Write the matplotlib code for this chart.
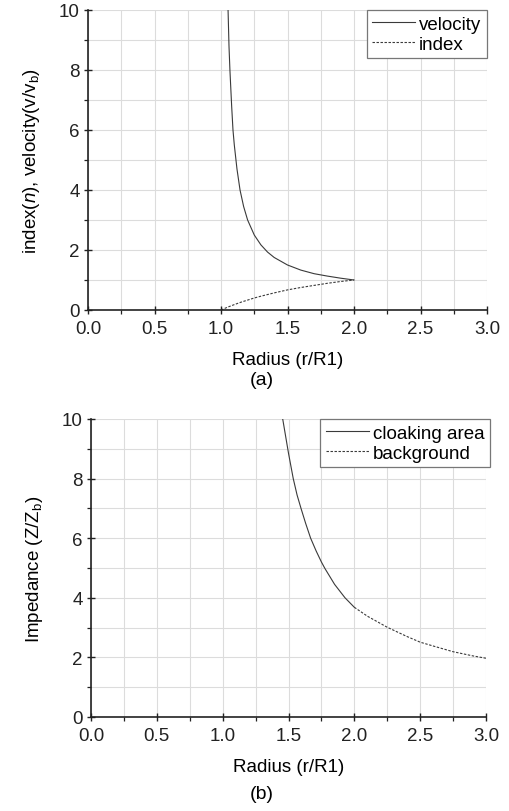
"""
cloak profiles: (a) index / velocity, (b) impedance vs radius
"""

import matplotlib
matplotlib.use("Agg")
import matplotlib.pyplot as plt
from matplotlib.ticker import MultipleLocator

plt.rcParams['font.family'] = ['Liberation Sans', 'DejaVu Sans']
plt.rcParams['mathtext.fontset'] = 'custom'
plt.rcParams['mathtext.rm'] = 'Liberation Sans'
plt.rcParams['mathtext.it'] = 'Liberation Sans:italic'

# panel (a)
vel_r = [1.053, 1.06, 1.067, 1.08, 1.09, 1.10, 1.12, 1.143, 1.17, 1.20,
         1.25, 1.30, 1.35, 1.40, 1.50, 1.60, 1.70, 1.80, 1.90, 2.00]
vel_v = [10.0, 8.8, 8.0, 6.8, 6.0, 5.5, 4.7, 4.0, 3.45, 3.0,
         2.5, 2.17, 1.93, 1.75, 1.50, 1.33, 1.21, 1.13, 1.06, 1.00]

idx_r = [1.00, 1.05, 1.10, 1.15, 1.20, 1.25, 1.30, 1.40, 1.50, 1.60,
         1.70, 1.80, 1.90, 2.00]
idx_n = [0.0, 0.095, 0.18, 0.26, 0.33, 0.40, 0.46, 0.57, 0.67, 0.75,
         0.82, 0.89, 0.95, 1.00]

# panel (b)
cloak_r = [1.456, 1.50, 1.536, 1.565, 1.595, 1.63, 1.668, 1.71, 1.75, 1.777,
           1.85, 1.929, 2.00]
cloak_z = [10.0, 8.85, 8.0, 7.45, 7.0, 6.5, 6.0, 5.57, 5.2, 4.98,
           4.45, 4.0, 3.68]

back_r = [2.00, 2.10, 2.25, 2.40, 2.50, 2.60, 2.75, 2.90, 3.00]
back_z = [3.68, 3.38, 3.01, 2.70, 2.51, 2.38, 2.19, 2.05, 1.97]

xticks = [0.0, 0.5, 1.0, 1.5, 2.0, 2.5, 3.0]
yticks = [0, 2, 4, 6, 8, 10]

LINE = '#3a3a3a'
DOT = (0, (2.2, 1.4))
FS = 13.5


def style_axes(ax, ylabel):
    ax.set_xlim(0, 3)
    ax.set_ylim(0, 10)
    ax.set_xticks(xticks)
    ax.set_xticklabels(["%.1f" % t for t in xticks])
    ax.set_yticks(yticks)
    ax.xaxis.set_minor_locator(MultipleLocator(0.25))
    ax.yaxis.set_minor_locator(MultipleLocator(1))
    ax.grid(which='both', color='#dcdcdc', linewidth=0.8)
    ax.set_axisbelow(True)
    for s in ['top', 'right']:
        ax.spines[s].set_visible(False)
    for s in ['left', 'bottom']:
        ax.spines[s].set_linewidth(1.2)
        ax.spines[s].set_color('#222222')
    ax.tick_params(which='major', direction='inout', length=6, width=1.0,
                   labelsize=FS, colors='#222222')
    ax.tick_params(axis='x', which='major', pad=4)
    ax.tick_params(axis='y', which='major', pad=3)
    ax.tick_params(which='minor', direction='out', length=3, width=0.9,
                   colors='#222222')
    ax.set_xlabel("Radius (r/R1)", fontsize=FS, labelpad=10)
    ax.set_ylabel(ylabel, fontsize=FS, labelpad=12)


fig = plt.figure(figsize=(5.09, 8.12), dpi=100)
ax0 = fig.add_axes([0.1729, 0.6170, 0.7839, 0.3695])
ax1 = fig.add_axes([0.1788, 0.1158, 0.7760, 0.3670])

ax0.plot(vel_r, vel_v, color=LINE, linewidth=0.8, label="velocity")
ax0.plot(idx_r, idx_n, color=LINE, linewidth=0.8, linestyle=DOT, label="index")
style_axes(ax0, r"index($\mathit{n}$), velocity(v/v$_\mathrm{b}$)")

ax1.plot(cloak_r, cloak_z, color=LINE, linewidth=0.8, label="cloaking area")
ax1.plot(back_r, back_z, color=LINE, linewidth=0.8, linestyle=DOT, label="background")
style_axes(ax1, r"Impedance (Z/Z$_\mathrm{b}$)")

for ax, anchor in [(ax0, (1.0, 1.0)), (ax1, (1.01, 1.0))]:
    leg = ax.legend(loc='upper right', bbox_to_anchor=anchor, borderaxespad=0,
                    fontsize=FS, handlelength=2.3, handletextpad=0.2,
                    labelspacing=0.15, borderpad=0.3, fancybox=False,
                    framealpha=1, edgecolor='#777777')
    leg.get_frame().set_linewidth(0.9)

fig.text(0.515, 1 - 381 / 812, "(a)", ha='center', va='center', fontsize=FS + 0.5)
fig.text(0.515, 1 - 795 / 812, "(b)", ha='center', va='center', fontsize=FS + 0.5)

plt.savefig("out.png", dpi=100)
plt.close()
